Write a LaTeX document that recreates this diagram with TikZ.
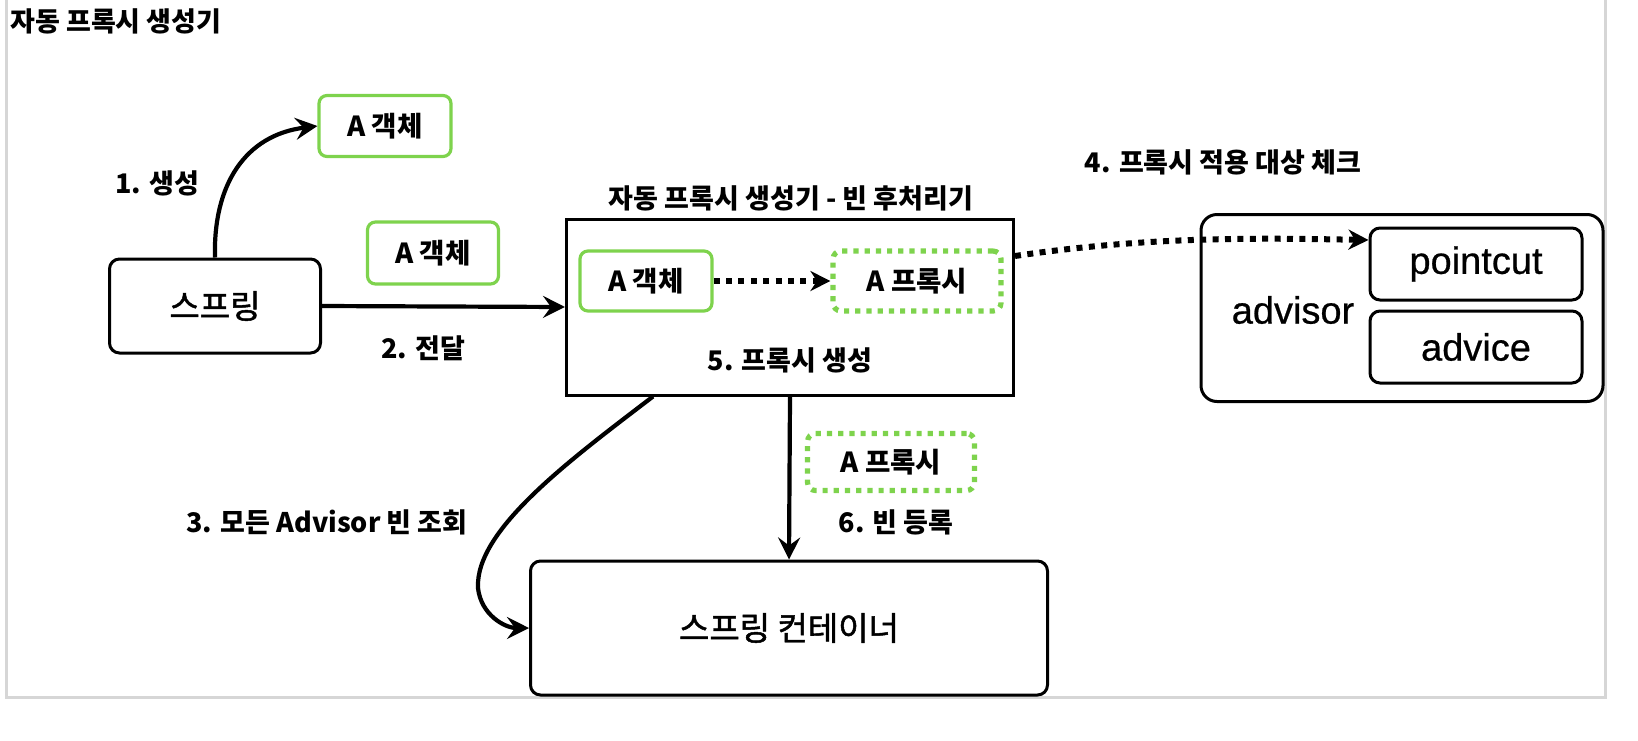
\documentclass[tikz,border=0pt]{standalone}
\usepackage{fontspec}
\setmainfont{Noto Sans CJK KR}
\newfontfamily\medfont{Noto Sans CJK KR}[FakeBold=1.4]
\newfontfamily\latfont{Liberation Sans}[FakeBold=0.6]
\usetikzlibrary{arrows.meta}
\definecolor{grn}{RGB}{126,211,77}
\definecolor{frm}{RGB}{214,214,214}
\begin{document}
\begin{tikzpicture}[x=0.5pt,y=-0.5pt,
  box/.style={draw=black, line width=1.5pt, rounded corners=5pt, inner sep=0pt, align=center},
  gsolid/.style={draw=grn, line width=1.6pt, rounded corners=4pt, inner sep=0pt, font=\bfseries\fontsize{13.8}{16}\selectfont},
  gdot/.style={draw=grn, line width=2.6pt, dash pattern=on 2.6pt off 3pt, rounded corners=4pt, inner sep=0pt, font=\bfseries\fontsize{13.8}{16}\selectfont},
  lbl/.style={font=\bfseries\fontsize{13.5}{16}\selectfont, inner sep=0pt},
  ttl/.style={font=\bfseries\fontsize{13.5}{16}\selectfont, inner sep=0pt},
  big/.style={font=\medfont\fontsize{16.5}{19}\selectfont},
  lat/.style={font=\latfont\fontsize{19}{22}\selectfont},
  arr/.style={line width=2.1pt, -{Stealth[length=11pt,width=11pt,inset=4pt]}},
  darr/.style={line width=3pt, dash pattern=on 3pt off 3.2pt, -{Stealth[length=10pt,width=10pt]}}
]
\useasboundingbox (0,0) rectangle (1638,740);
\draw[draw=frm, line width=1.5pt] (6,-5) rectangle (1605,697);

\node[anchor=west, ttl] (title) at (10,21) {자동 프록시 생성기};

\node[gsolid, minimum width=66pt, minimum height=30.5pt] (a1) at (385,126) {A 객체};
\node[box, big, minimum width=105.5pt, minimum height=47pt] (spring) at (215,306) {스프링};
\node[gsolid, minimum width=65.5pt, minimum height=31pt] (a2) at (433,253) {A 객체};
\node[draw, line width=1.5pt, minimum width=223.5pt, minimum height=88pt] (bpp) at (790,307) {};
\node[ttl] (bpptitle) at (791,198) {자동 프록시 생성기 - 빈 후처리기};
\node[gsolid, minimum width=66pt, minimum height=30pt] (a3) at (646,281) {A 객체};
\node[gdot, minimum width=84pt, minimum height=30pt] (p1) at (917,281) {A 프록시};
\node[lbl] (l5) at (790,360) {5. 프록시 생성};

\node[box, rounded corners=8pt, minimum width=201pt, minimum height=93.5pt] (advisor) at (1402,308) {};
\node[lat, inner sep=0pt] (advtxt) at (1293,310) {advisor};
\node[box, lat, minimum width=106pt, minimum height=36pt] (pc) at (1476,264) {pointcut};
\node[box, lat, minimum width=106pt, minimum height=36pt] (ad) at (1476,347) {advice};

\node[box, big, minimum width=258.5pt, minimum height=67pt] (cont) at (789,628) {스프링 컨테이너};
\node[gdot, minimum width=83.5pt, minimum height=28.5pt] (p2) at (891,462) {A 프록시};

\node[lbl] (l1) at (157,183) {1. 생성};
\node[lbl] (l2) at (423,348) {2. 전달};
\node[lbl] (l4) at (1223,162) {4. 프록시 적용 대상 체크};
\node[lbl] (l3) at (327,522) {3. 모든 Advisor 빈 조회};
\node[lbl] (l6) at (896,522) {6. 빈 등록};

\draw[arr] (spring.north) .. controls (213,185) and (245,135) .. (a1.west);
\draw[arr] (spring.east) -- (bpp.west);
\draw[darr] (a3.east) -- (p1.west);
\draw[darr] ([yshift=25.5pt]bpp.east) .. controls (1150,236) and (1260,238) .. ([yshift=12pt]pc.west);
\draw[arr] ([xshift=-68.5pt]bpp.south) .. controls (570,460) and (475,530) .. (478,588) .. controls (481,615) and (505,628) .. (cont.west);
\draw[arr] (bpp.south) -- (cont.north);
\end{tikzpicture}
\end{document}
